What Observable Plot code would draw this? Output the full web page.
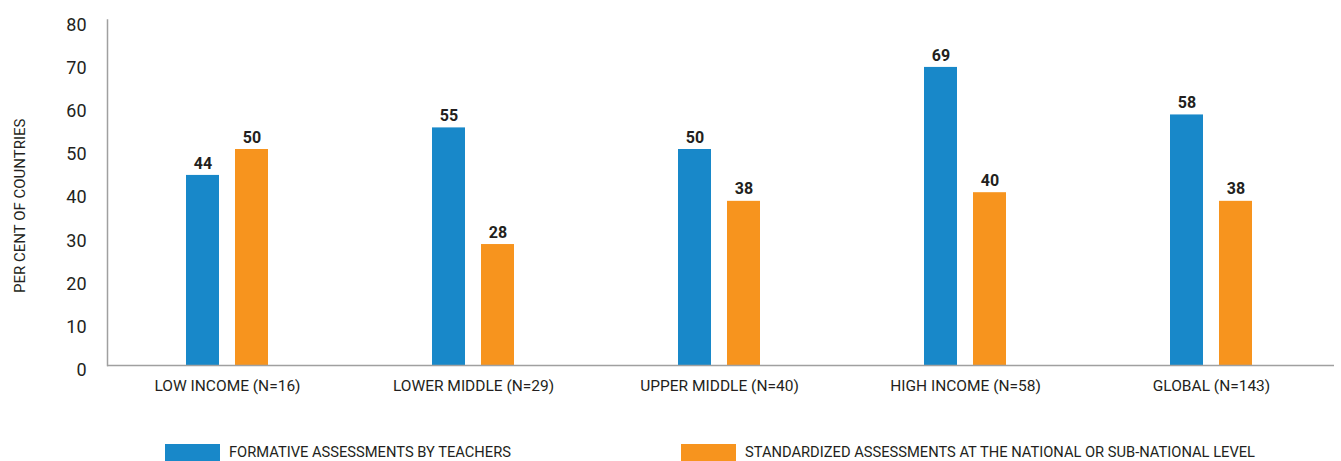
<!DOCTYPE html>
<html>
<head>
<meta charset="utf-8">
<script src="https://cdn.jsdelivr.net/npm/d3@7"></script>
<script src="https://cdn.jsdelivr.net/npm/@observablehq/plot@0.6"></script>
<style>
  html, body { margin: 0; padding: 0; background: #fff; overflow: hidden; }
  body { font-family: Roboto, sans-serif; color: #231f20; width: 1341px; }
  #chart svg { display: block; }
  .legend { display: flex; align-items: flex-start; padding-left: 165px; margin-top: 24px; height: 17px; }
  .legend .item { display: flex; align-items: flex-start; }
  .legend .item:first-child { width: 516px; }
  .legend .sw { width: 55px; height: 17px; margin-right: 9px; }
  .legend .lbl { font-size: 14.7px; line-height: 17px; color: #231f20; white-space: nowrap; }
</style>
</head>
<body>
<div id="chart"></div>
<div class="legend" id="legend"></div>
<script>
const groups = ["LOW INCOME (N=16)", "LOWER MIDDLE (N=29)", "UPPER MIDDLE (N=40)", "HIGH INCOME (N=58)", "GLOBAL (N=143)"];
const formative = [44, 55, 50, 69, 58];
const standardized = [50, 28, 38, 40, 38];
const seriesNames = ["FORMATIVE ASSESSMENTS BY TEACHERS", "STANDARDIZED ASSESSMENTS AT THE NATIONAL OR SUB-NATIONAL LEVEL"];
const yLabel = "PER CENT OF COUNTRIES";
const colors = ["#1888c9", "#f7941e"];
const yTicks = [0, 10, 20, 30, 40, 50, 60, 70, 80];

const dataF = groups.map((g, i) => ({group: g, value: formative[i]}));
const dataS = groups.map((g, i) => ({group: g, value: standardized[i]}));

const font = "Roboto, sans-serif";

const plot = Plot.plot({
  width: 1341,
  height: 420,
  marginLeft: 104,
  marginRight: 7,
  marginTop: 19.4,
  marginBottom: 55,
  style: {fontFamily: font, fontSize: "17px", color: "#231f20", background: "#fff", overflow: "visible"},
  x: {domain: groups, padding: 0, label: null},
  y: {domain: [0, 80], label: null},
  marks: [
    Plot.barY(dataF, {x: "group", y: "value", fill: colors[0], insetLeft: 82, insetRight: 131}),
    Plot.barY(dataS, {x: "group", y: "value", fill: colors[1], insetLeft: 131, insetRight: 82}),
    Plot.text(dataF, {x: "group", y: "value", text: d => String(d.value), dx: -24.5, dy: -12, fontWeight: "bold", fontSize: 16, fill: "#231f20"}),
    Plot.text(dataS, {x: "group", y: "value", text: d => String(d.value), dx: 24.5, dy: -12, fontWeight: "bold", fontSize: 16, fill: "#231f20"}),
    Plot.ruleY([0], {stroke: "#a0a0a0", strokeWidth: 1.5, insetLeft: 3}),
    Plot.frame({anchor: "left", stroke: "#a0a0a0", strokeWidth: 1.5, insetLeft: 3}),
    Plot.axisY({ticks: yTicks, tickSize: 0, tickPadding: 18, dy: 5, fontSize: 18, label: null}),
    Plot.text([yLabel], {text: d => d, frameAnchor: "left", textAnchor: "middle", rotate: -90, dx: -84, dy: 13, fontSize: 15, fill: "#231f20"}),
    Plot.axisX({tickSize: 0, tickPadding: 14, fontSize: 15.5, label: null})
  ]
});
document.getElementById("chart").appendChild(plot);

const legend = document.getElementById("legend");
seriesNames.forEach((name, i) => {
  const item = document.createElement("div");
  item.className = "item";
  const sw = document.createElement("div");
  sw.className = "sw";
  sw.style.background = colors[i];
  const lbl = document.createElement("span");
  lbl.className = "lbl";
  lbl.textContent = name;
  item.appendChild(sw);
  item.appendChild(lbl);
  legend.appendChild(item);
});
</script>
</body>
</html>
